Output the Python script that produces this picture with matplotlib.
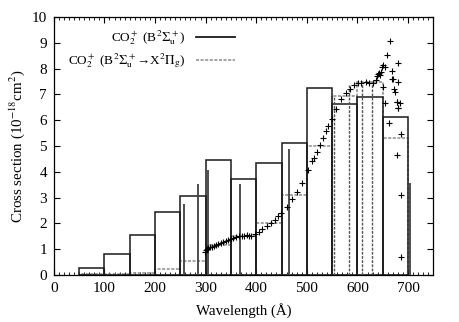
import matplotlib
matplotlib.use("Agg")
import matplotlib.pyplot as plt
from matplotlib.lines import Line2D
from matplotlib.ticker import MultipleLocator

plt.rcParams['font.family'] = ['Liberation Serif', 'DejaVu Serif']
plt.rcParams['mathtext.fontset'] = 'stix'

# Binned cross sections (50 A bins)
bin_left = [50, 100, 150, 200, 250, 300, 350, 400, 450, 500, 550, 600, 650]
sigma_B = [0.28, 0.80, 1.55, 2.43, 3.07, 4.46, 3.72, 4.35, 5.13, 7.24, 6.62, 6.90, 6.14]
sigma_BX = [0.02, 0.05, 0.08, 0.22, 0.55, 1.15, 1.51, 2.00, 3.12, 5.02, 6.93, 7.50, 5.32]

# Solar lines
line_B_wl = [256.3, 284.2, 303.8, 368.1, 465.2, 703.4]
line_B_val = [2.74, 3.53, 4.07, 3.53, 4.87, 3.55]
line_BX_wl = [554.4, 584.3, 609.8, 629.7]
line_BX_val = [6.90, 7.35, 7.48, 7.48]

# Measured cross section (points)
pts_wl = [298, 300, 302, 305, 308, 312, 316, 320, 325, 330, 335, 340, 345, 350, 355,
          360, 365, 371, 375, 381, 385, 390, 397, 405, 412, 422, 430, 437, 444, 449,
          460, 471, 481, 490, 503, 511, 515, 521, 526, 532, 538, 542, 550, 557, 567,
          577, 585, 594, 602, 608, 616, 623, 631, 637, 639, 641, 643, 644, 646, 648,
          651, 655, 651, 658, 664, 668, 668, 670, 672, 674, 678, 681, 681, 681, 684,
          681, 687, 679, 686, 687, 655, 662, 679]
pts_val = [0.88, 0.95, 1.00, 1.03, 1.07, 1.10, 1.13, 1.16, 1.20, 1.24, 1.28, 1.32, 1.36, 1.40, 1.44,
           1.47, 1.50, 1.52, 1.53, 1.55, 1.53, 1.51, 1.58, 1.68, 1.77, 1.90, 2.00, 2.13, 2.29, 2.42,
           2.65, 2.93, 3.20, 3.58, 4.07, 4.43, 4.52, 4.78, 5.04, 5.30, 5.60, 5.79, 6.03, 6.42, 6.81,
           7.04, 7.20, 7.36, 7.43, 7.45, 7.47, 7.45, 7.43, 7.56, 7.71, 7.78, 7.82, 7.75, 7.88, 8.05,
           8.14, 8.07, 7.30, 8.53, 9.08, 7.92, 7.58, 7.58, 7.23, 7.10, 6.72, 8.20, 7.50, 6.46, 6.68,
           6.46, 5.45, 4.65, 3.10, 0.69, 6.68, 5.90, 6.72]

x_ticks = [0, 100, 200, 300, 400, 500, 600, 700]
y_ticks = [0, 1, 2, 3, 4, 5, 6, 7, 8, 9, 10]

fig = plt.figure(figsize=(4.6, 3.22), dpi=100)
ax = fig.add_axes([0.117, 0.146, 0.825, 0.801])

solid_c = '#1a1a1a'
dash_c = '#8a8a8a'

ax.bar(bin_left, sigma_BX, width=50, align='edge', fill=False, edgecolor=dash_c,
       linewidth=1.1, linestyle=(0, (2, 1)), zorder=2)
ax.bar(bin_left, sigma_B, width=50, align='edge', fill=False, edgecolor=solid_c,
       linewidth=1.1, zorder=3)
ax.vlines(line_B_wl, 0, line_B_val, colors='#404040', linewidth=1.3, zorder=3)
ax.vlines(line_BX_wl, 0, line_BX_val, colors='#555555', linewidth=1.0,
          linestyles=(0, (2, 1)), zorder=3)
ax.plot(pts_wl, pts_val, linestyle='none', marker='+', markersize=5,
        markeredgewidth=0.8, color='black', zorder=4)

ax.set_xlim(0, 750)
ax.set_ylim(0, 10)
ax.set_xticks(x_ticks)
ax.set_yticks(y_ticks)
ax.xaxis.set_minor_locator(MultipleLocator(10))
ax.tick_params(axis='both', which='major', direction='in', length=4.5, width=0.8,
               labelsize=11, top=True, right=True, pad=5)
ax.tick_params(axis='x', which='minor', direction='in', length=2.2, width=0.6,
               top=True, bottom=True)
for s in ax.spines.values():
    s.set_linewidth(0.9)

ax.set_xlabel('Wavelength (Å)', fontsize=10.8, labelpad=6)
ax.set_ylabel(r'Cross section (10$^{-18}$cm$^2$)', fontsize=10.8, labelpad=3)

handles = [Line2D([], [], color=solid_c, linewidth=1.3),
           Line2D([], [], color=dash_c, linewidth=1.1, linestyle=(0, (2, 1)))]
labels = [r'CO$_2^+$ (B$^2\Sigma_{\rm u}^+$)',
          r'CO$_2^+$ (B$^2\Sigma_{\rm u}^+$→X$^2\Pi_{\rm g}$)']
ax.legend(handles, labels, loc='upper right', bbox_to_anchor=(0.478, 0.955),
          frameon=False, markerfirst=False, fontsize=9.5, handlelength=3.0,
          handletextpad=0.8, labelspacing=0.3, borderaxespad=0.0, borderpad=0.0)

fig.savefig('out.png', dpi=100)
